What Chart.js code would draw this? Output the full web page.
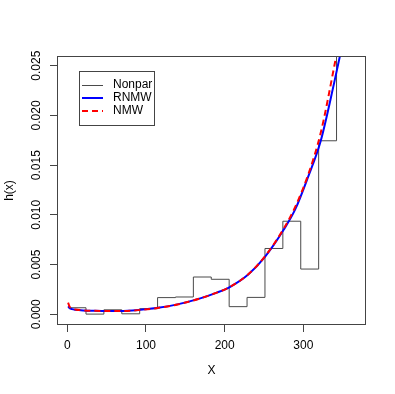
<!DOCTYPE html>
<html>
<head>
<meta charset="utf-8">
<script src="https://cdn.jsdelivr.net/npm/chart.js@4/dist/chart.umd.min.js"></script>
<style>
  html, body { margin: 0; padding: 0; background: #fff; }
  #wrap { width: 395px; height: 394px; }
</style>
</head>
<body>
<div id="wrap"><canvas id="c" width="395" height="394"></canvas></div>
<script>
// ---- data ----
const nonparBreaks = [1, 23.75, 46.5, 69.25, 92, 114.75, 137.5, 160.25, 183, 205.75, 228.5, 251.25, 274, 296.75, 319.5, 342.25, 365];
const nonparH = [0.00066, 0.00002, 0.00045, 0.00005, 0.00056, 0.00168, 0.00174, 0.00375, 0.00352, 0.00077, 0.00170, 0.00662, 0.00936, 0.00455, 0.01745, 0.03000];

const rnmwX = [1, 3, 6, 10, 20, 35, 50, 67, 90, 113, 140, 169, 190, 206, 230, 251, 275, 290, 306, 322, 339, 352];
const rnmwY = [0.00080, 0.00062, 0.00052, 0.00046, 0.00039, 0.00035, 0.00033, 0.00033, 0.00043, 0.00063, 0.00100, 0.00160, 0.00218, 0.00272, 0.00400, 0.00575, 0.00850, 0.01060, 0.01380, 0.01740, 0.02320, 0.02800];

const nmwX = [1, 3, 6, 10, 20, 35, 50, 67, 90, 113, 140, 169, 190, 206, 230, 251, 275, 290, 306, 322, 339, 350];
const nmwY = [0.00118, 0.00075, 0.00058, 0.00049, 0.00040, 0.00035, 0.00033, 0.00033, 0.00042, 0.00062, 0.00099, 0.00160, 0.00218, 0.00272, 0.00402, 0.00580, 0.00860, 0.01085, 0.01400, 0.01820, 0.02480, 0.02950];

const xTicks = [0, 100, 200, 300];
const yTicks = [0, 0.005, 0.010, 0.015, 0.020, 0.025];
const seriesNames = ['Nonpar', 'RNMW', 'NMW'];
const xTitle = 'X';
const yTitle = 'h(x)';

// ---- build datasets ----
const stepPts = nonparH.map((h, i) => ({x: nonparBreaks[i], y: h}));
stepPts.push({x: nonparBreaks[nonparBreaks.length - 1], y: nonparH[nonparH.length - 1]});
const rnmwPts = rnmwX.map((x, i) => ({x, y: rnmwY[i]}));
const nmwPts = nmwX.map((x, i) => ({x, y: nmwY[i]}));

const AX = '#444';
Chart.defaults.font.family = "'Liberation Sans', Arial, Helvetica, sans-serif";
Chart.defaults.font.size = 12;
Chart.defaults.color = '#000';

const boxAndLegend = {
  id: 'boxAndLegend',
  afterDraw(chart) {
    const ctx = chart.ctx;
    const a = chart.chartArea;
    ctx.save();
    ctx.strokeStyle = AX;
    ctx.lineWidth = 1;
    ctx.setLineDash([]);
    ctx.strokeRect(Math.round(a.left) + 0.5, Math.round(a.top) + 0.5,
                   Math.round(a.right - a.left) - 1, Math.round(a.bottom - a.top) - 1);
    // legend
    ctx.strokeRect(79.5, 71.5, 75, 54);
    const ds = chart.data.datasets;
    const rows = [85, 98, 111];
    ds.forEach((d, i) => {
      const y = rows[i];
      ctx.beginPath();
      ctx.strokeStyle = d.borderColor;
      ctx.lineWidth = d.borderWidth;
      ctx.setLineDash(d.borderDash || []);
      const yy = d.borderWidth % 2 ? y + 0.5 : y;
      ctx.moveTo(82, yy);
      ctx.lineTo(103, yy);
      ctx.stroke();
      ctx.setLineDash([]);
      ctx.fillStyle = '#000';
      ctx.font = "12px 'Liberation Sans', Arial, sans-serif";
      ctx.textBaseline = 'middle';
      ctx.textAlign = 'left';
      ctx.fillText(d.label, 113, y);
    });
    ctx.restore();
  }
};

new Chart(document.getElementById('c'), {
  type: 'scatter',
  data: {
    datasets: [
      { label: seriesNames[0], data: stepPts, showLine: true, stepped: 'before',
        borderColor: '#4a4a4a', borderWidth: 1, pointRadius: 0, order: 3 },
      { label: seriesNames[1], data: rnmwPts, showLine: true, cubicInterpolationMode: 'monotone',
        borderColor: '#0000ff', borderWidth: 2, pointRadius: 0, order: 2 },
      { label: seriesNames[2], data: nmwPts, showLine: true, cubicInterpolationMode: 'monotone',
        borderColor: '#ff0000', borderWidth: 2, borderDash: [6, 4], pointRadius: 0, order: 1 }
    ]
  },
  options: {
    responsive: false,
    animation: false,
    layout: { padding: { top: 56, right: 29, left: 0, bottom: 0 } },
    plugins: { legend: { display: false }, tooltip: { enabled: false } },
    scales: {
      x: {
        type: 'linear', min: -13.1, max: 379.7,
        afterBuildTicks: s => { s.ticks = xTicks.map(v => ({value: v})); },
        afterFit: s => { s.height = 69; },
        ticks: { padding: 6, maxRotation: 0, minRotation: 0, color: '#000',
                 callback: v => String(v) },
        grid: { display: true, drawOnChartArea: false, drawTicks: true, tickLength: 7,
                tickColor: AX, tickWidth: 1 },
        border: { display: false },
        title: { display: true, text: xTitle, color: '#000', padding: { top: 0, bottom: 16 } }
      },
      y: {
        type: 'linear', min: -0.001076, max: 0.025975,
        afterBuildTicks: s => { s.ticks = yTicks.map(v => ({value: v})); },
        afterFit: s => { s.width = 57; },
        ticks: { padding: -2, minRotation: 90, maxRotation: 90, crossAlign: 'center', color: '#000',
                 callback: v => v.toFixed(3) },
        grid: { display: true, drawOnChartArea: false, drawTicks: true, tickLength: 7,
                tickColor: AX, tickWidth: 1 },
        border: { display: false },
        title: { display: true, text: yTitle, color: '#000', padding: { top: 2, bottom: 0 } }
      }
    }
  },
  plugins: [boxAndLegend]
});
</script>
</body>
</html>
